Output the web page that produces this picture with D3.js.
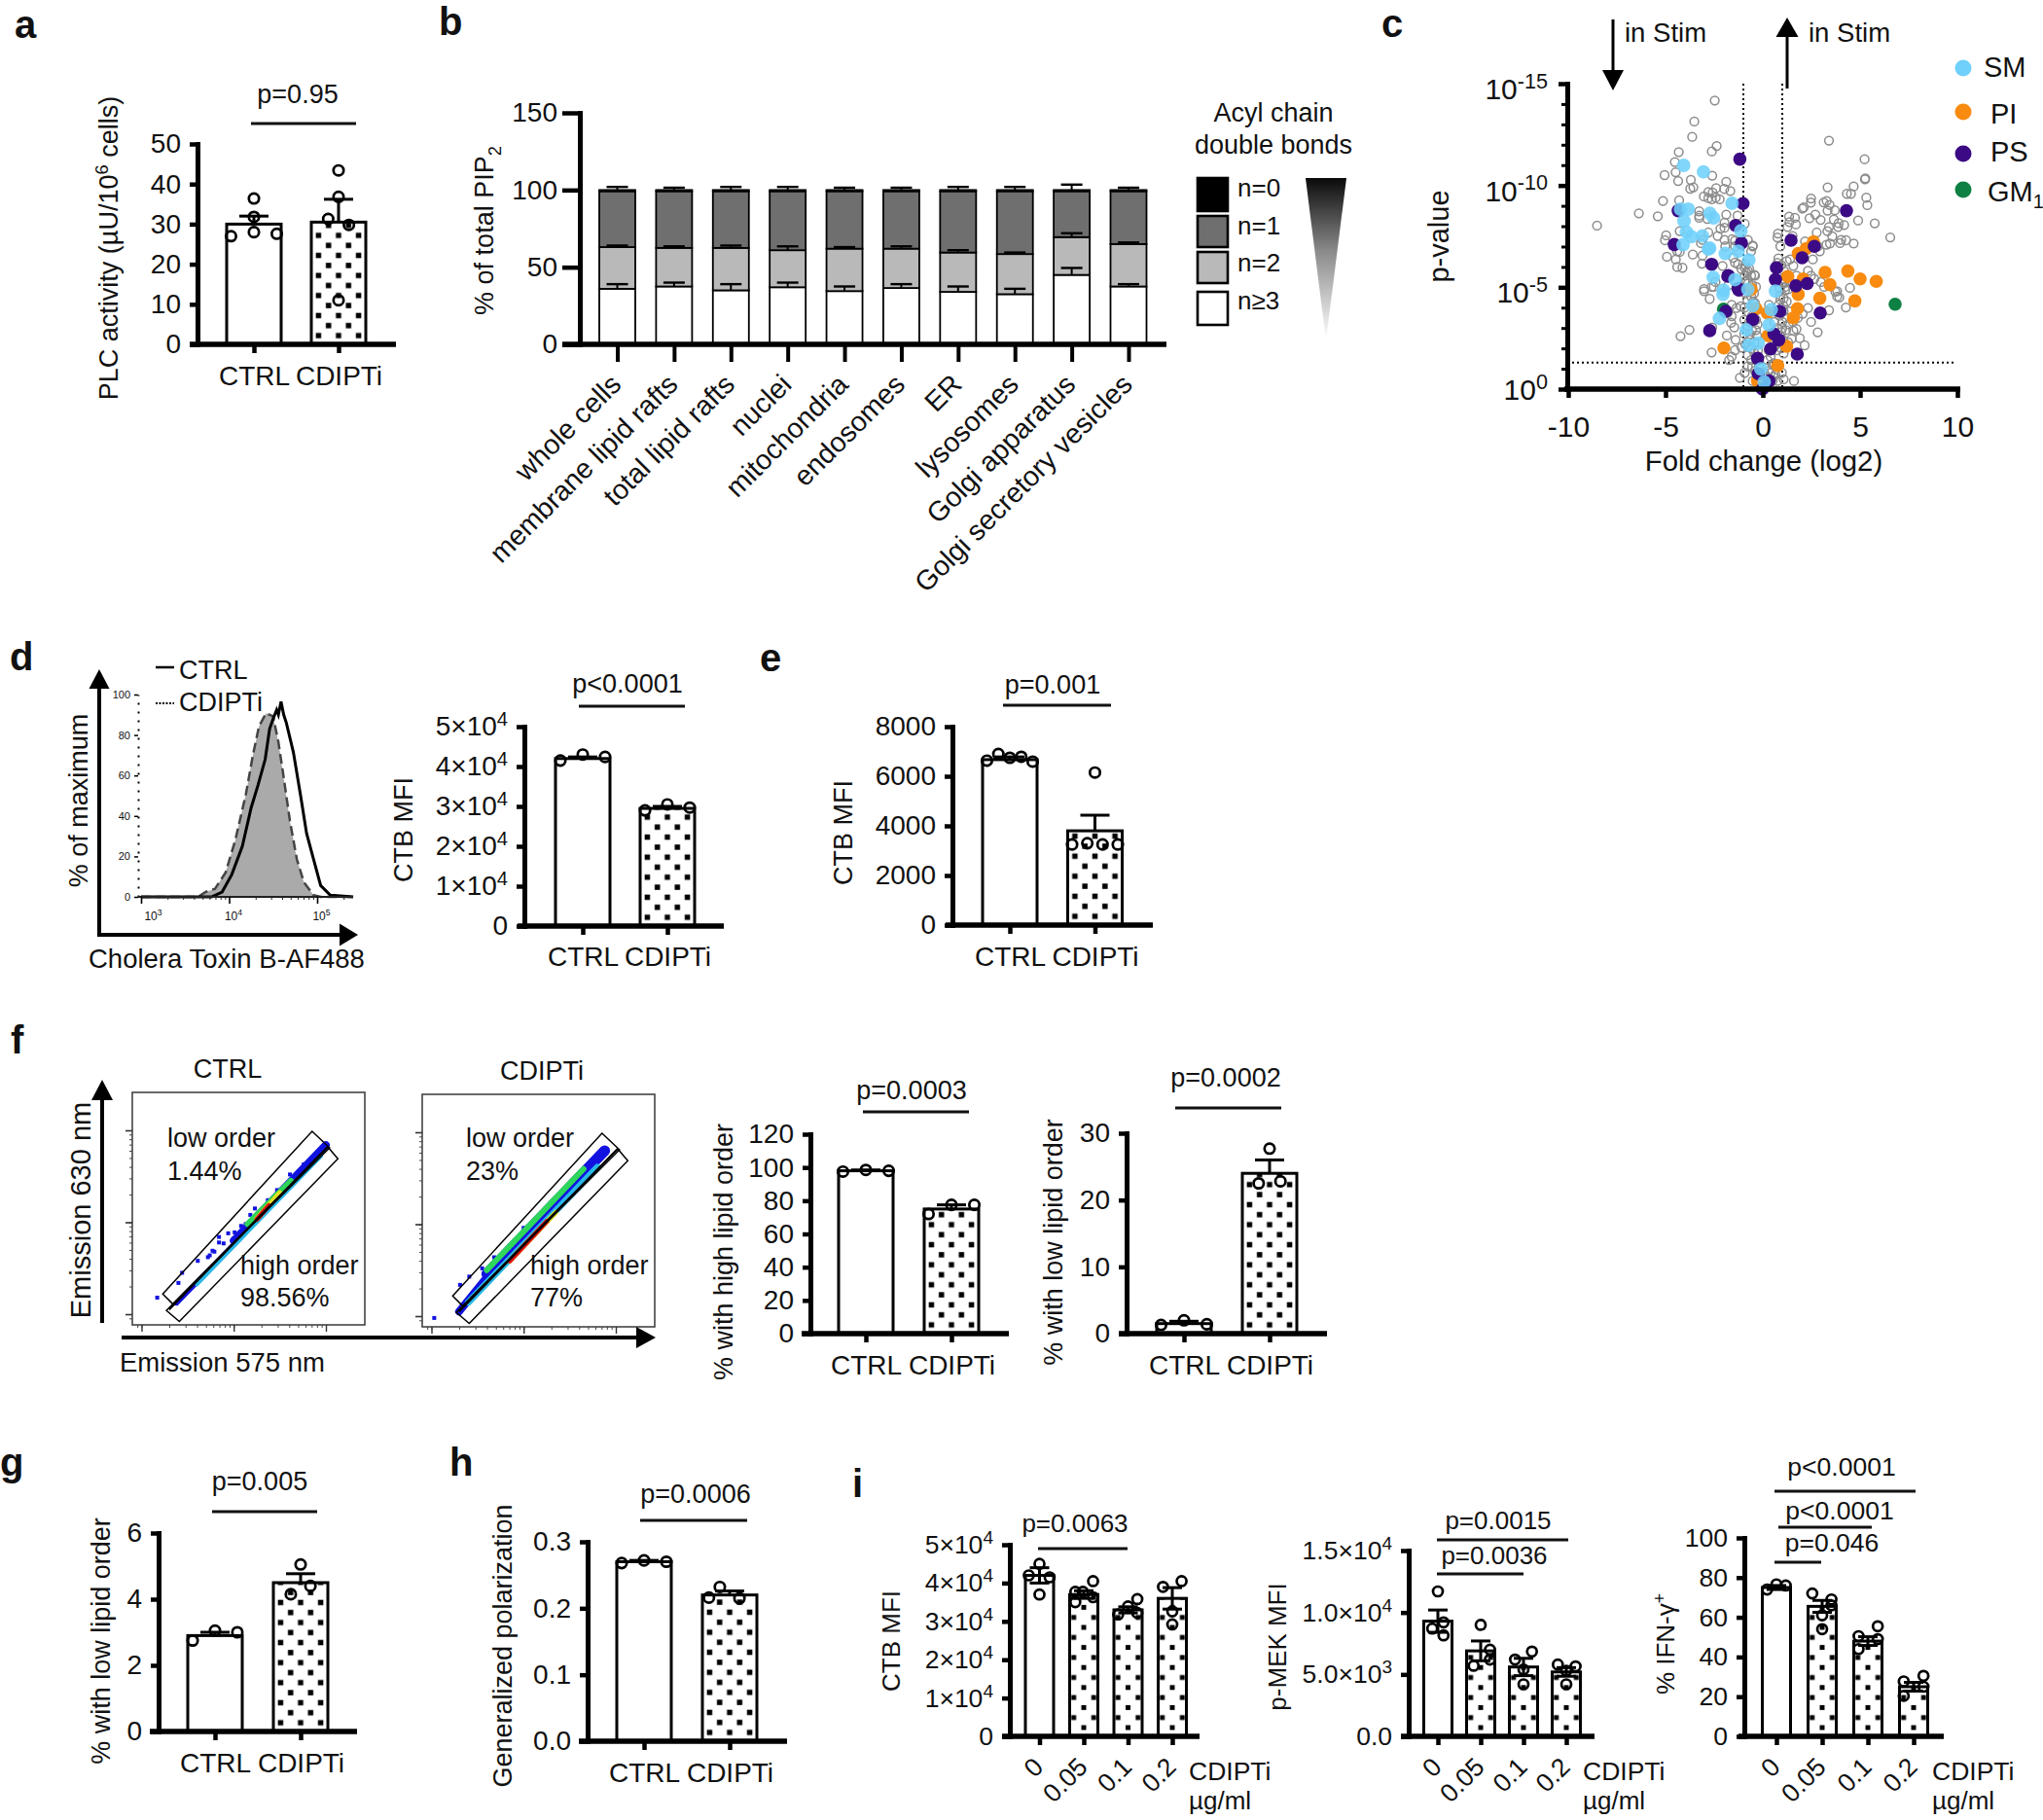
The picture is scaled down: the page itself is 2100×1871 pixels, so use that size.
<!DOCTYPE html>
<html><head><meta charset="utf-8">
<style>html,body{margin:0;padding:0;background:#fff}svg{display:block}text{font-family:"Liberation Sans",Arial,sans-serif;fill:#111}</style>
<script src="https://cdnjs.cloudflare.com/ajax/libs/d3/7.8.5/d3.min.js"></script>
</head><body><script>
// ---------- DATA ----------
const ctrlCats=["CTRL","CDIPTi"];
const doseCats=["0","0.05","0.1","0.2"];
const aValues=[30,30.5], aErr=[2,5.7];
const aPoints=[[36.4,31.8,28,27,27.6],[43.4,36.8,31.3,29.8,11]];
const aJitter=[[0,0,0,-.42,.42],[0,0,-.19,.19,0]];
const dValues=[42000,29500], dErr=[400,500];
const dPoints=[[41500,43000,42400],[29000,30500,29700]];
const dJitter=[[-.41,0,.41],[-.41,0,.41]];
const eValues=[6670,3800], eErr=[110,630];
const ePoints=[[6630,6900,6745,6785,6590],[6150,3250,3300,3250,3250]];
const eJitter=[[-.42,-.21,0,.21,.42],[0,-.42,-.14,.14,.42]];
const f1Values=[98,75], f1Err=[.5,2.5];
const f1Points=[[97.5,98.5,98],[72,77.5,77.5]];
const f1Jitter=[[-.42,0,.42],[-.42,0,.42]];
const f2Values=[1.5,24], f2Err=[.35,2];
const f2Points=[[1.3,2,1.4],[27.7,22.5,22.8]];
const f2Jitter=[[-.42,0,.42],[0,-.2,.2]];
const gValues=[2.9,4.5], gErr=[.1,.27];
const gPoints=[[2.75,3.05,3.0],[5.05,4.4,4.15]];
const gJitter=[[-.41,0,.41],[0,.18,-.18]];
const hValues=[.27,.22], hErr=[.002,.006];
const hPoints=[[.268,.272,.27],[.232,.216,.215]];
const hJitter=[[-.41,0,.41],[-.18,-.38,.18]];
const i1Values=[42000,37000,33000,36000], i1Err=[2000,1000,800,2800];
const i1Points=[[45000,42000,41500,37000],[40500,37700,37700,36300,35000],[35800,33900,31800,32200],[40500,39000,32600,29200]];
const i1Jitter=[[0,-.38,.36,0],[.33,-.3,-.03,.33,-.3],[.33,0,-.35,.33],[.33,-.33,0,0]];
const i2Values=[9300,6900,5600,5200], i2Err=[900,800,700,350];
const i2Points=[[11700,9200,8700,8150],[9000,7000,6200,5700],[6850,6200,5400,4200],[5650,5800,5300,4200]];
const i2Jitter=[[0,.2,-.2,.2],[0,.33,.33,-.25],[.3,-.3,0,0],[.33,-.3,0,0]];
const i3Values=[75,65.5,48,25], i3Err=[1,3,2.2,2.2];
const i3Points=[[76,76.6,74],[72,69,66,61,54],[55.5,50.5,49,44],[30.5,27.7,25,20.4]];
const i3Jitter=[[.33,0,-.33],[-.35,.33,.33,0,0],[.35,-.33,.35,-.33],[.35,-.35,.35,-.35]];

const bCats=["whole cells","membrane lipid rafts","total lipid rafts","nuclei","mitochondria","endosomes","ER","lysosomes","Golgi apparatus","Golgi secretory vesicles"];
const bN3=[36,37.5,35,37,34.5,36.5,34,32.5,45,37.5];
const bN2=[27,25,27.5,24,27.5,25.5,25.5,26,24.5,27.5];
const bN1=[36.2,36.7,36.7,38.2,37.2,37.2,39.7,40.7,29.7,34.2];
const bN0=[.8,.8,.8,.8,.8,.8,.8,.8,.8,.8];
const bErrN3=[3,2.5,4,3,3,2.5,3.5,3.5,4.5,1.5];
const bErrN2=[1,1,1.5,2.5,1,1.5,1.5,1,2.5,1];
const bErrTop=[2,1.5,2,2,1.5,1.5,2,2,3.5,1.5];
const bLegend=["n=0","n=1","n=2","n≥3"];

// [log2 fold change, -log10 p]
const volcanoGray=[[-2.47,14.17],[-3.52,13.14],[-3.63,12.39],[-2.37,11.94],[-2.62,11.67],[-4.32,11.64],[-4.52,11.15],[-4.48,10.65],[-5.05,10.51],[-4.35,10.22],[-2.6,10.48],[-3.7,10.27],[-3.73,9.84],[-3.57,9.91],[-1.88,10.18],[-1.98,9.83],[-2.4,9.87],[-1.67,9.73],[-2.8,9.68],[-2.58,9.65],[-3.03,9.46],[-2.8,9.38],[-2.62,9.32],[-2.22,9.32],[-2.42,9.4],[-5.13,9.24],[-4.3,9.27],[-6.37,8.63],[-5.4,8.49],[-8.52,8.03],[-3.27,8.73],[-3.27,8.52],[-3.27,8.41],[-2.85,8.36],[-1.88,8.57],[-1.3,8.52],[-1.97,8.17],[-2.18,7.88],[-1.97,7.92],[-2.32,7.52],[-.93,8.12],[-4.27,7.76],[-4.97,7.55],[-5.03,7.31],[-2.8,7.69],[-3.1,7.33],[-3.18,7.17],[-1.97,7.33],[-1.57,7.36],[-1.43,7.29],[-.77,7.33],[-.52,7.05],[-.6,6.77],[-4.93,6.5],[-4.4,6.77],[-4.27,6.74],[-3.6,6.61],[-3.1,6.56],[-4.47,6.37],[-4.4,6],[-4.13,5.96],[-3.13,6.16],[-2.07,6.05],[-1.52,6.45],[-1.43,6.21],[-1.27,6.13],[-.93,5.97],[-.77,5.81],[-.43,5.61],[-.93,5.57],[-1.43,7.01],[-1.93,7.01],[-2.43,5.26],[-2.63,5.02],[-3.02,4.91],[-1.77,5.1],[-.93,5.26],
[3.4,12.2],[5.23,11.29],[5.27,10.35],[5.25,10.3],[3.33,9.91],[4.67,9.95],[4.32,9.59],[4.53,9.59],[5.32,9.4],[5.37,9.03],[2.48,9.36],[2.47,9.16],[3.13,9.17],[3.28,9.24],[3.43,9.05],[2.03,8.87],[2.1,8.92],[3.33,8.76],[3.7,8.78],[2.7,8.57],[2.4,8.39],[2.97,8.31],[3.65,8.33],[4.9,8.28],[5.75,8.14],[1.35,8.47],[1.65,8.41],[1.37,8.2],[1.27,7.96],[1.7,8.09],[4.18,8.06],[3.9,8.15],[3.87,7.96],[3.4,7.96],[3.32,7.76],[2.77,7.69],[.78,7.64],[.75,7.45],[1.53,7.52],[3.57,7.5],[6.55,7.45],[4.28,7.31],[4.03,7.33],[3.97,7.17],[4.67,7.15],[3.45,7.15],[3.27,7.09],[2.17,7.25],[.9,7.01],[2.82,7.01],[2.93,6.77],[.8,6.42],[1.23,6.29],[1.4,6.37],[2.57,6.37],[1.57,6.05],[2.32,5.81],[2.48,5.57],[1.73,5.57],[1.07,5.41],[2.65,5.41],[2.98,5.26],[4.48,4.97],[3.82,4.81],[3.15,5.02],[1.4,5.26],[1.15,5.02],[.87,4.94],[-.52,7.01],[-.4,5.57],
[-3.02,4.81],[-2.73,4.43],[-2.52,5.02],[-3.77,2.91],[-4.23,2.6],[-2.63,1.8],[-2.6,3.03],[-1.8,3.74],[-1.6,4.14],[-1.35,3.98],[-1.13,4.06],[-1.63,3.26],[-1.6,3.58],[-1.47,3.03],[-1.85,2.63],[-1.4,2.42],[-.68,2.42],[-.3,2.63],[-1.1,2.04],[-1.43,1.91],[-1.6,1.59],[-1.73,1.43],[-.77,1.67],[-1.18,.56],[-.52,.4],[-.02,.16],[.15,.08],[1.6,.4],[1.07,.48],[-.85,5.73],[-.6,5.57],[-.85,5.33],[-.35,5.02],[-.6,4.54],[-.4,4.22],[-.27,3.9],[-.77,3.1],[-.27,3.18],[-.43,2.31],[.32,4.14],[.57,3.82],[.98,5.25],[1.15,4.86],[1.23,4.3],[1.07,3.82],[1.07,4.46],[.82,4.14],[1.4,3.82],[1.32,3.18],[1.57,2.87],[1.73,2.95],[1.48,2.47],[2.15,2.15],[2.48,3.3],[2.82,2.79],[2.32,3.98],[3.4,3.87],[4.27,4.01],[3.82,4.54],[3.93,4.5],[3.73,4.78],[1.07,1.75],[.23,1.43],[.57,1.27],[.73,1.91],[.98,.8],[.65,.72],[.07,.8],[-.77,1.11],[-.93,.8],[-.6,1.43],[.15,.4],[-.1,.32],[.4,1.59],[.7,2.2],[.9,2.6],[1,3],[.6,3.3],[.4,2.5],[.3,1.9],[-.2,1.2],[.3,.9],[-.4,.9],[.5,.4],[.9,4.6],[.7,5.4],
[-1.1,5.9],[-.9,6.1],[-.7,5.9],[-.75,5.2],[-.55,5.1],[-.9,4.7],[-.45,4.7],[-.8,4.4],[-.5,4.3],[-.95,4],[-.75,3.8],[-.55,3.6],[-.35,3.4],[-.95,3.4],[-.7,3.3],[-.55,2.9],[-.95,2.7],[-.65,2.7],[-.35,2.9],[-.9,2.2],[-.6,2],[-.45,1.8],[-.25,1.9],[-.55,1.1],[-.35,.8],[-.2,.6],
[.75,6.2],[.95,6.1],[1.1,5.8],[.85,5.6],[1.3,5.6],[1.1,5.2],[1.3,4.9],[.9,4.4],[1.05,4.1],[.85,3.6],[1.2,3.5],[1,3.3],[.75,3],[.95,2.8],[1.2,2.9],[.8,2.4],[1.05,2.4],[1.3,2.3],[.6,2.1],[.95,2],[.5,1.2],[.7,1.1],[.4,.8],[.55,.6],[.75,.4],[.2,.6],[1.55,3.3],[1.8,3.5],[2.05,3.7],[1.9,2.5]];
const volcanoSM=[[-4.07,10.99],[-3.05,10.67],[-1.58,9.13],[-4.23,8.84],[-3.83,8.84],[-4.05,8.25],[-2.72,8.63],[-2.53,8.41],[-1.13,7.77],[-3.93,7.72],[-3.68,7.49],[-4.1,7.09],[-3.1,7.52],[-2.73,6.93],[-2.8,6.88],[-1.93,6.66],[-1.27,6.77],[-.72,6.34],[-2.55,5.49],[-1.43,5.38],[-2.02,4.86],[-.77,4.9],[-2.05,4.65],[-.52,4.09],[-2.23,3.47],[-.85,2.91],[.32,3.15],[.43,3.9],[.65,4.81],[-.23,2.26],[-.73,2.15],[-.1,.99],[.07,.35]];
const volcanoPS=[[-1.18,11.29],[-1.02,9.11],[-4.35,8.76],[-1.4,8.04],[-1.1,7.17],[-4.55,7.1],[-2.63,6.13],[-1.77,5.57],[-1.27,4.94],[4.3,8.76],[1.45,7.31],[2.65,7.01],[2.02,6.45],[.7,5.96],[.65,5.38],[1.7,5.07],[2.28,5.18],[-1.8,5.54],[-1.23,4.86],[-1.9,3.82],[-.52,3.42],[-2.73,2.87],[.87,3.82],[2.95,3.74],[.57,2.71],[.82,2.42],[.4,1.97],[1.77,1.72],[-.27,1.51],[-.23,.75],[.32,.4],[-.02,0]];
const volcanoPI=[[2.6,7.23],[2.23,6.9],[1.82,6.66],[3.2,5.73],[4.37,5.8],[5,5.41],[5.83,5.29],[3.45,5.13],[1.28,5.53],[2.07,5.41],[2.93,4.46],[4.73,4.33],[1.82,4.65],[1.78,3.95],[1.57,3.5],[.23,3.74],[-.6,4.9],[-.35,3.95],[-2,2.02],[1.23,2.1],[.77,1.16],[.27,2.63],[-.27,.4]];
const volcanoGM=[[6.8,4.17],[-2.02,3.93]];
const volcanoLegend=["SM","PI","PS","GM"];

// histogram: [log10 intensity, % of max]
const histCtrl=[[3,0],[3.8,0],[3.92,2.4],[4.03,11],[4.15,25],[4.25,44],[4.33,55.5],[4.41,68],[4.46,83],[4.5,88],[4.54,92.4],[4.56,90],[4.59,96.5],[4.62,90],[4.65,86],[4.73,71.5],[4.81,50.6],[4.88,31.4],[4.96,18.5],[5.04,5.6],[5.15,.8],[5.41,0]];
const histCdipti=[[3,0],[3.65,0],[3.73,2.4],[3.84,4],[3.96,12],[4.07,28],[4.19,50.6],[4.27,70],[4.34,84.4],[4.42,90.8],[4.5,89.2],[4.56,76.4],[4.61,62],[4.69,37.8],[4.77,18.5],[4.85,7.2],[4.96,.8],[5.04,0],[5.41,0]];

// flow: gates and density bands in log10 units [x1,y1,x2,y2,level,thickness]
const gateLow=[[4.85,4.99],[5.04,4.81],[3.34,3.11],[3.23,3.22]];
const gateHigh=[[5.02,4.82],[5.13,4.69],[3.41,2.92],[3.27,3.04]];
const gateDivider=[[5.02,4.82],[3.3,3.05]];
const flowBandsCtrl=[[3.38,3.12,4.0,3.76,0,5],[4.0,3.8,5.0,4.84,0,8],[3.6,3.32,4.95,4.72,2,3.5],[4.15,3.98,4.62,4.45,3,6],[4.25,4.04,4.5,4.32,4,5],[4.25,4.03,4.38,4.18,6,5]];
const flowBandsCdipti=[[3.3,3.05,3.6,3.42,0,8],[3.6,3.46,4.88,4.8,0,11],[3.4,3.15,4.8,4.62,2,7],[3.6,3.5,4.65,4.6,3,6],[3.85,3.6,4.35,4.13,4,5],[3.85,3.6,4.25,4.03,6,5]];
const flowScatterCtrl=[[3.17,3.18],[3.4,3.34],[3.44,3.45],[3.61,3.58],[3.72,3.62],[3.84,3.84],[3.94,3.88],[3.79,3.68],[3.89,3.77],[4.08,3.96],[4.23,4.15],[3.84,3.78],[3.77,3.69],[3.74,3.64],[4.01,3.89],[4.13,3.98],[4.18,4.08],[4.37,4.24],[4.47,4.35],[4.61,4.52],[4.76,4.63]];
const flowScatterCdipti=[[3.03,2.98],[3.31,3.34],[3.41,3.43],[3.55,3.52],[3.68,3.64],[3.85,3.77],[4.0,3.96]];
const flowLevels=["#1212e0","#1a6fe8","#28b8e8","#2ed65a","#e4e020","#f09010","#e01410"];

// ---------- DRAWING ----------
const svg=d3.select("body").append("svg").attr("width",2100).attr("height",1871);
const defs=svg.append("defs");
let uid=0;
function txt(par,x,y,s,fs,opt={}){
  const t=par.append("text").attr("x",x).attr("y",y).attr("font-size",fs).attr("text-anchor",opt.anchor||"start");
  if(opt.weight)t.attr("font-weight",opt.weight);
  t.text(s);return t;
}
function rotLabel(par,x,cy,parts,fs){
  const t=par.append("text").attr("transform",`translate(${x},${cy}) rotate(-90)`).attr("text-anchor","middle").attr("font-size",fs);
  richText(t,parts,fs);return t;
}
function richText(t,parts,fs){
  let shift=0;
  parts.forEach(p=>{
    const s=typeof p==="string"?{t:p,d:0}:p;
    const sp=t.append("tspan").text(s.t);
    const dy=s.d-shift; if(dy)sp.attr("dy",dy);
    shift=s.d;
    if(s.d)sp.attr("font-size",fs*.68);
  });
}
function supTicks(sel,fs){
  sel.selectAll(".tick text").each(function(){
    const el=d3.select(this),parts=el.text().split("^");
    el.attr("font-size",fs).attr("fill","#111");
    if(parts.length>1){el.text(parts[0]);el.append("tspan").attr("dy",-fs*.38).attr("font-size",fs*.72).text(parts[1]);}
  });
}
function arrow(par,x1,y1,x2,y2,hl,hw,sw=4){
  const a=Math.atan2(y2-y1,x2-x1),bx=x2-hl*Math.cos(a),by=y2-hl*Math.sin(a),nx=-Math.sin(a)*hw,ny=Math.cos(a)*hw;
  par.append("line").attr("x1",x1).attr("y1",y1).attr("x2",bx).attr("y2",by).attr("stroke","#000").attr("stroke-width",sw);
  par.append("polygon").attr("points",`${x2},${y2} ${bx+nx},${by+ny} ${bx-nx},${by-ny}`).attr("fill","#000");
}
function pBar(par,p){
  txt(par,p.cx,p.base,p.text,p.fs||27,{anchor:"middle"});
  par.append("line").attr("x1",p.x1).attr("x2",p.x2).attr("y1",p.y).attr("y2",p.y).attr("stroke","#111").attr("stroke-width",3);
}
function styleAxis(ax,sw,tw){
  ax.select(".domain").attr("stroke","#000").attr("stroke-width",sw).attr("stroke-linecap","square");
  ax.selectAll(".tick line").attr("stroke","#000").attr("stroke-width",tw);
}
function barChart(s){
  const g=svg.append("g"), fs=s.fs||28;
  const y=d3.scaleLinear().domain([0,s.max]).range([s.y0,s.yTop]);
  const x=d3.scalePoint().domain(s.cats).range([s.c1,s.c2]);
  const fills=s.cats.map((c,i)=>{
    if(i===s.plain)return "#fff";
    const id="dots"+(uid++),T=20.6,q=s.sq||5.5;
    const pat=defs.append("pattern").attr("id",id).attr("patternUnits","userSpaceOnUse").attr("width",T).attr("height",T)
      .attr("patternTransform",`translate(${x(c)-T/2},${s.y0-9-T/2})`);
    pat.append("rect").attr("width",T).attr("height",T).attr("fill","#fff");
    [[T/2,T/2],[0,0],[T,0],[0,T],[T,T]].forEach(p=>pat.append("rect").attr("x",p[0]-q/2).attr("y",p[1]-q/2).attr("width",q).attr("height",q).attr("fill","#000"));
    return `url(#${id})`;
  });
  s.cats.forEach((c,i)=>{
    const cx=x(c),v=s.values[i],e=s.err[i],top=y(v+e),bot=s.both?y(v-e):y(v);
    g.append("rect").attr("x",cx-s.bw/2).attr("width",s.bw).attr("y",y(v)).attr("height",s.y0-y(v)).attr("fill",fills[i]).attr("stroke","#000").attr("stroke-width",3);
    g.append("line").attr("x1",cx).attr("x2",cx).attr("y1",top).attr("y2",bot).attr("stroke","#000").attr("stroke-width",3);
    [v+e].concat(s.both?[v-e]:[]).forEach(val=>g.append("line").attr("x1",cx-s.cap/2).attr("x2",cx+s.cap/2).attr("y1",y(val)).attr("y2",y(val)).attr("stroke","#000").attr("stroke-width",3));
    g.selectAll(null).data(s.points[i]).enter().append("circle")
      .attr("cx",(d,j)=>cx+s.jitter[i][j]*s.bw).attr("cy",d=>y(d)).attr("r",s.r||5.2).attr("fill","none").attr("stroke","#000").attr("stroke-width",2.7);
  });
  const ya=g.append("g").attr("transform",`translate(${s.axX},0)`)
    .call(d3.axisLeft(y).tickValues(s.ticks).tickFormat((d,i)=>s.tickLabels?s.tickLabels[i]:d).tickSize(8).tickPadding(s.pad||9).tickSizeOuter(0));
  styleAxis(ya,5,4.5); supTicks(ya,fs);
  const xa=g.append("g").attr("transform",`translate(0,${s.y0})`)
    .call(d3.axisBottom(x).tickSize(9).tickSizeOuter(0));
  styleAxis(xa,5.5,4.5);
  xa.select(".domain").attr("d",`M${s.xStart},0H${s.xEnd}`).attr("stroke-linecap","butt");
  xa.selectAll(".tick text").attr("font-size",fs).attr("fill","#111");
  if(s.xLabY)xa.selectAll(".tick text").attr("y",s.xLabY-s.y0).attr("dy",0);
  if(s.rotate){
    xa.selectAll(".tick text").attr("text-anchor","end").attr("dy",0).attr("y",0)
      .attr("transform",`translate(${s.rotate[0]},${s.rotate[1]-s.y0}) rotate(-45)`);
  }
  rotLabel(g,s.labX,s.labY,s.label,s.labFs||27);
  (s.p||[]).forEach(p=>pBar(g,p));
  return g;
}
// panel letters
[["a",15,39],["b",451,36],["c",1420,38],["d",10,689],["e",781,690],["f",11,1083],["g",0,1517],["h",462,1517],["i",876,1539]]
 .forEach(d=>txt(svg,d[1],d[2],d[0],40,{weight:"bold"}));

// a
barChart({cats:ctrlCats,values:aValues,err:aErr,points:aPoints,jitter:aJitter,plain:0,max:50,ticks:[0,10,20,30,40,50],
  y0:354,yTop:148,axX:203,c1:261,c2:348,bw:56,cap:30,xStart:195,xEnd:407,xLabY:396,labX:121,labY:255,labFs:27,
  label:["PLC activity (µU/10",{t:"6",d:-10}," cells)"],p:[{text:"p=0.95",cx:306,base:106,x1:258,x2:366,y:127}]});

// b
(function(){
  const g=svg.append("g"),y=d3.scaleLinear().domain([0,150]).range([354,116]);
  const x=d3.scalePoint().domain(bCats).range([634.5,1160]);
  const seg=[[bN3,"#fff"],[bN2,"#b9b9b9"],[bN1,"#6f6f6f"],[bN0,"#000"]];
  bCats.forEach((c,i)=>{
    let base=0;const tops=[];
    seg.forEach(([arr,col])=>{
      const v=arr[i];
      g.append("rect").attr("x",x(c)-18.5).attr("width",37).attr("y",y(base+v)).attr("height",y(base)-y(base+v)).attr("fill",col).attr("stroke","#000").attr("stroke-width",1.8);
      base+=v;tops.push(base);
    });
    [[tops[0],bErrN3[i]],[tops[1],bErrN2[i]],[tops[3],bErrTop[i]]].forEach(([t,e])=>{
      g.append("line").attr("x1",x(c)).attr("x2",x(c)).attr("y1",y(t)).attr("y2",y(t+e)).attr("stroke","#000").attr("stroke-width",2);
      g.append("line").attr("x1",x(c)-11).attr("x2",x(c)+11).attr("y1",y(t+e)).attr("y2",y(t+e)).attr("stroke","#000").attr("stroke-width",2.4);
    });
  });
  const ya=g.append("g").attr("transform","translate(596,0)").call(d3.axisLeft(y).tickValues([0,50,100,150]).tickSize(18).tickPadding(5).tickSizeOuter(0));
  styleAxis(ya,5,4.5);supTicks(ya,28);
  const xa=g.append("g").attr("transform","translate(0,354)").call(d3.axisBottom(x).tickSize(18).tickSizeOuter(0));
  styleAxis(xa,5.5,4);
  xa.select(".domain").attr("d","M578,0H1199").attr("stroke-linecap","butt");
  xa.selectAll(".tick text").attr("font-size",28.6).attr("fill","#111").attr("text-anchor","end").attr("y",0).attr("dy",0)
    .attr("transform","translate(5,43) rotate(-45)");
  rotLabel(g,507,237,["% of total PIP",{t:"2",d:8}],27);
  // legend
  const L=svg.append("g");
  txt(L,1309,125,"Acyl chain",27,{anchor:"middle"});txt(L,1309,158,"double bonds",27,{anchor:"middle"});
  const cols=["#000","#6f6f6f","#b9b9b9","#fff"],ys=[183,222,259,300],hs=[34,32,32,34],bs=[202,241,279,318];
  bLegend.forEach((t,i)=>{
    L.append("rect").attr("x",1231).attr("y",ys[i]).attr("width",31).attr("height",hs[i]).attr("fill",cols[i]).attr("stroke","#000").attr("stroke-width",2.6);
    txt(L,1272,bs[i],t,26);
  });
  const gr=defs.append("linearGradient").attr("id","tri").attr("x1",0).attr("x2",0).attr("y1",0).attr("y2",1);
  gr.append("stop").attr("offset",0).attr("stop-color","#0a0a0a");
  gr.append("stop").attr("offset",.45).attr("stop-color","#8a8a8a");
  gr.append("stop").attr("offset",1).attr("stop-color","#fff");
  L.append("polygon").attr("points","1342,183 1384,183 1363,350").attr("fill","url(#tri)");
})();

// c
(function(){
  const g=svg.append("g");
  const x=d3.scaleLinear().domain([-10,10]).range([1612,2012]);
  const y=d3.scaleLinear().domain([0,15]).range([400,86]);
  const dot=(a,b,c,d)=>g.append("line").attr("x1",a).attr("x2",b).attr("y1",c).attr("y2",d).attr("stroke","#000").attr("stroke-width",2).attr("stroke-dasharray","2,3");
  dot(x(-1),x(-1),y(15),y(0));dot(x(1),x(1),y(15),y(0));dot(1616,2011,y(1.3),y(1.3));
  g.selectAll(null).data(volcanoGray).enter().append("circle").attr("cx",d=>x(d[0])).attr("cy",d=>y(d[1])).attr("r",4.4).attr("fill","none").attr("stroke","#8c8c8c").attr("stroke-width",1.5);
  const pts=(arr,col,op,r)=>g.selectAll(null).data(arr).enter().append("circle").attr("cx",d=>x(d[0])).attr("cy",d=>y(d[1])).attr("r",r).attr("fill",col).attr("opacity",op);
  pts(volcanoGM,"#0e8043",1,6.8);pts(volcanoPI,"#f88b10",1,6.8);pts(volcanoPS,"#3c0a84",1,6.8);pts(volcanoSM,"#6fd0fb",.88,7);
  const minor=g.append("g").attr("transform","translate(1611,0)").call(d3.axisLeft(y).tickValues(d3.range(0,16)).tickFormat("").tickSize(6).tickSizeOuter(0));
  styleAxis(minor,5,3);
  const ya=g.append("g").attr("transform","translate(1611,0)").call(d3.axisLeft(y).tickValues([0,5,10,15]).tickFormat(d=>d===0?"10^0":"10^-"+d).tickSize(9).tickPadding(11).tickSizeOuter(0));
  styleAxis(ya,5,4.5);supTicks(ya,30);
  ya.selectAll(".tick text").attr("transform",d=>`translate(0,${d===0?1:6})`);
  const xa=g.append("g").attr("transform","translate(0,400)").call(d3.axisBottom(x).tickValues([-10,-5,0,5,10]).tickFormat(d=>String(d)).tickSize(9).tickSizeOuter(0));
  styleAxis(xa,5.5,4.5);
  xa.select(".domain").attr("d","M1608,0H2015").attr("stroke-linecap","butt");
  xa.selectAll(".tick text").attr("font-size",30).attr("fill","#111").attr("y",49).attr("dy",0);
  txt(g,1813,484,"Fold change (log2)",29.3,{anchor:"middle"});
  rotLabel(g,1489,243,["p-value"],29);
  arrow(g,1658,20,1658,93,21,11,3);arrow(g,1837,91,1837,18,20,11.5,3);
  txt(g,1670,43,"in Stim",27.5);txt(g,1859,43,"in Stim",27.5);
  const lc=["#6fd0fb","#f88b10","#3c0a84","#0e8043"],ly=[70,115,158,195],lx=[2039,2046,2046,2043],lb=[79,127,166,207];
  volcanoLegend.forEach((t,i)=>{
    g.append("circle").attr("cx",2018).attr("cy",ly[i]).attr("r",8.5).attr("fill",lc[i]);
    const tt=txt(g,lx[i],lb[i],"",29);
    tt.append("tspan").text(t);
    if(t==="GM")tt.append("tspan").attr("dy",7).attr("font-size",20).text("1");
  });
})();

// d histogram
(function(){
  const g=svg.append("g");
  const x=d3.scaleLinear().domain([3,5]).range([145,326]);
  const y=d3.scaleLinear().domain([0,100]).range([922,714]);
  g.append("path").datum(histCdipti).attr("d",d3.area().x(d=>x(d[0])).y0(y(0)).y1(d=>y(d[1]))).attr("fill","#aaa");
  g.append("path").datum(histCdipti).attr("d",d3.line().x(d=>x(d[0])).y(d=>y(d[1]))).attr("fill","none").attr("stroke","#444").attr("stroke-width",2.5).attr("stroke-dasharray","10,5");
  g.append("path").datum(histCtrl).attr("d",d3.line().x(d=>x(d[0])).y(d=>y(d[1]))).attr("fill","none").attr("stroke","#000").attr("stroke-width",3);
  const ya=g.append("g").attr("transform","translate(142,0)").call(d3.axisLeft(y).tickValues([0,20,40,60,80,100]).tickSize(4).tickPadding(4).tickSizeOuter(0));
  ya.select(".domain").attr("stroke","#000").attr("stroke-width",2).attr("stroke-dasharray","2,7");
  ya.selectAll(".tick line").attr("stroke","#000").attr("stroke-width",1.5);
  ya.selectAll(".tick text").attr("font-size",11).attr("fill","#333");
  const minors=[];[3,4,5].forEach(dc=>[2,3,4,5,6,7,8,9].forEach(m=>{const v=dc+Math.log10(m);if(v<=5.41)minors.push(v);}));
  const xm=g.append("g").attr("transform","translate(0,922)").call(d3.axisBottom(x).tickValues(minors).tickFormat("").tickSize(3).tickSizeOuter(0));
  xm.select(".domain").attr("d","M142,0H363").attr("stroke","#222").attr("stroke-width",2);
  xm.selectAll(".tick line").attr("stroke","#222").attr("stroke-width",1);
  const xa=g.append("g").attr("transform","translate(0,922)").call(d3.axisBottom(x).tickValues([3,4,5]).tickFormat(d=>"10^"+d).tickSize(7).tickPadding(8).tickSizeOuter(0));
  xa.select(".domain").remove();xa.selectAll(".tick line").attr("stroke","#000").attr("stroke-width",1.6);
  supTicks(xa,12);
  xa.selectAll(".tick text").attr("transform",d=>`translate(${d===3?12:4},0)`);
  arrow(g,102,962,102,688,20,10.5);arrow(g,100,961,368,961,19,11.5);
  rotLabel(g,90,823,["% of maximum"],27);
  txt(g,91,995,"Cholera Toxin B-AF488",27.5);
  g.append("line").attr("x1",160).attr("x2",179).attr("y1",686).attr("y2",686).attr("stroke","#000").attr("stroke-width",2.5);
  g.append("line").attr("x1",160).attr("x2",179).attr("y1",723).attr("y2",723).attr("stroke","#000").attr("stroke-width",2).attr("stroke-dasharray","2,1.5");
  txt(g,184,698,"CTRL",27);txt(g,184,731,"CDIPTi",27);
})();
const sci4=["0","1×10^4","2×10^4","3×10^4","4×10^4","5×10^4"];
barChart({cats:ctrlCats,values:dValues,err:dErr,points:dPoints,jitter:dJitter,plain:0,max:50000,ticks:[0,1e4,2e4,3e4,4e4,5e4],tickLabels:sci4,
  y0:952,yTop:747,axX:539,c1:599,c2:686,bw:56,cap:30,xStart:532,xEnd:744,xLabY:993,labX:424,labY:853,
  label:["CTB MFI"],p:[{text:"p<0.0001",cx:645,base:712,x1:595,x2:704,y:726}]});
barChart({cats:ctrlCats,values:eValues,err:eErr,points:ePoints,jitter:eJitter,plain:0,max:8000,ticks:[0,2000,4000,6000,8000],
  y0:951,yTop:747,axX:979,c1:1038,c2:1125.5,bw:56,cap:30,xStart:972,xEnd:1185,xLabY:993,labX:876,labY:856,
  label:["CTB MFI"],p:[{text:"p=0.001",cx:1082,base:713,x1:1031,x2:1142,y:725}]});

// f flow
function flowPanel(dx,dy,bands,scatter,title,tx,ty,lines){
  const g=svg.append("g");
  const x=d3.scaleLinear().domain([3,5]).range([145.5+dx,335+dx]);
  const y=d3.scaleLinear().domain([3,5]).range([1351+dy,1162+dy]);
  const L=136+dx,R=375+dx,T=1123+dy,B=1362+dy;
  g.append("rect").attr("x",L).attr("y",T).attr("width",R-L).attr("height",B-T).attr("fill","#fff").attr("stroke","#444").attr("stroke-width",1.6);
  const mins=[];[2,3,4].forEach(dc=>[1,2,3,4,5,6,7,8,9].forEach(m=>{const v=dc+Math.log10(m);if(v>2.95&&v<=5.5)mins.push(v);}));
  const xa=g.append("g").attr("transform",`translate(0,${B})`).call(d3.axisBottom(x).tickValues(mins).tickFormat("").tickSize(3).tickSizeOuter(0));
  xa.select(".domain").remove();xa.selectAll(".tick line").attr("stroke","#444").attr("stroke-width",1);
  const ya=g.append("g").attr("transform",`translate(${L},0)`).call(d3.axisLeft(y).tickValues(mins).tickFormat("").tickSize(3).tickSizeOuter(0));
  ya.select(".domain").remove();ya.selectAll(".tick line").attr("stroke","#444").attr("stroke-width",1);
  const xb=g.append("g").attr("transform",`translate(0,${B})`).call(d3.axisBottom(x).tickValues([3,4,5]).tickFormat("").tickSize(7).tickSizeOuter(0));
  xb.select(".domain").remove();xb.selectAll(".tick line").attr("stroke","#333").attr("stroke-width",1.4);
  const yb=g.append("g").attr("transform",`translate(${L},0)`).call(d3.axisLeft(y).tickValues([3,4,5]).tickFormat("").tickSize(7).tickSizeOuter(0));
  yb.select(".domain").remove();yb.selectAll(".tick line").attr("stroke","#333").attr("stroke-width",1.6);
  g.selectAll(null).data(scatter).enter().append("rect").attr("x",d=>x(d[0])-2).attr("y",d=>y(d[1])-2).attr("width",4).attr("height",4).attr("fill",flowLevels[0]);
  bands.forEach(b=>g.append("line").attr("x1",x(b[0])).attr("y1",y(b[1])).attr("x2",x(b[2])).attr("y2",y(b[3])).attr("stroke",flowLevels[b[4]]).attr("stroke-width",b[5]).attr("stroke-linecap","round"));
  const poly=d3.line().x(d=>x(d[0])).y(d=>y(d[1])).curve(d3.curveLinearClosed);
  [gateLow,gateHigh].forEach(a=>g.append("path").attr("d",poly(a)).attr("fill","none").attr("stroke","#000").attr("stroke-width",1.5));
  g.append("path").attr("d",d3.line().x(d=>x(d[0])).y(d=>y(d[1]))(gateDivider)).attr("fill","none").attr("stroke","#000").attr("stroke-width",2);
  txt(g,tx,ty,title,27,{anchor:"middle"});
  lines.forEach(l=>txt(g,l[0],l[1],l[2],27));
}
flowPanel(0,0,flowBandsCtrl,flowScatterCtrl,"CTRL",234,1108,[[172,1179,"low order"],[172,1213,"1.44%"],[247,1310,"high order"],[247,1343,"98.56%"]]);
flowPanel(298,2,flowBandsCdipti,flowScatterCdipti,"CDIPTi",557,1110,[[479,1179,"low order"],[479,1213,"23%"],[545,1310,"high order"],[545,1343,"77%"]]);
arrow(svg,105,1360,105,1110,21,11);arrow(svg,125,1375,674,1375,20,11);
rotLabel(svg,93,1244,["Emission 630 nm"],29);
txt(svg,123,1410,"Emission 575 nm",27.5);
barChart({cats:ctrlCats,values:f1Values,err:f1Err,points:f1Points,jitter:f1Jitter,plain:0,max:120,ticks:[0,20,40,60,80,100,120],
  y0:1371,yTop:1166,axX:833,c1:890,c2:978,bw:56,cap:30,xStart:824,xEnd:1037,xLabY:1413,labX:753,labY:1287,
  label:["% with high lipid order"],p:[{text:"p=0.0003",cx:937,base:1130,x1:887,x2:996,y:1143}]});
barChart({cats:ctrlCats,values:f2Values,err:f2Err,points:f2Points,jitter:f2Jitter,plain:0,max:30,ticks:[0,10,20,30],
  y0:1371,yTop:1165,axX:1158,c1:1217,c2:1305,bw:56,cap:30,xStart:1150,xEnd:1364,xLabY:1413,labX:1092,labY:1277,
  label:["% with low lipid order"],p:[{text:"p=0.0002",cx:1260,base:1117,x1:1208,x2:1317,y:1139}]});
// g h
barChart({cats:ctrlCats,values:gValues,err:gErr,points:gPoints,jitter:gJitter,plain:0,max:6,ticks:[0,2,4,6],
  y0:1780,yTop:1576,axX:163,c1:221,c2:309,bw:56,cap:30,xStart:154,xEnd:367,xLabY:1822,labX:113,labY:1687,
  label:["% with low lipid order"],p:[{text:"p=0.005",cx:267,base:1532,x1:218,x2:326,y:1554}]});
barChart({cats:ctrlCats,values:hValues,err:hErr,points:hPoints,jitter:hJitter,plain:0,max:.3,ticks:[0,.1,.2,.3],tickLabels:["0.0","0.1","0.2","0.3"],
  y0:1790,yTop:1585,axX:604,c1:662,c2:750,bw:56,cap:30,xStart:595,xEnd:809,xLabY:1832,labX:526,labY:1692,
  label:["Generalized polarization"],p:[{text:"p=0.0006",cx:715,base:1545,x1:658,x2:768,y:1563}]});
// i
const common={cats:doseCats,plain:0,bw:29,cap:20,both:true,fs:26.5,labFs:26,r:5,sq:5};
barChart({...common,values:i1Values,err:i1Err,points:i1Points,jitter:i1Jitter,max:50000,ticks:[0,1e4,2e4,3e4,4e4,5e4],tickLabels:sci4,
  y0:1785,yTop:1588,axX:1038,c1:1068.5,c2:1205,xStart:1030,xEnd:1233,rotate:[5,1818],labX:925,labY:1687,
  label:["CTB MFI"],p:[{text:"p=0.0063",cx:1105,base:1575,x1:1067,x2:1159,y:1592,fs:26}]});
barChart({...common,values:i2Values,err:i2Err,points:i2Points,jitter:i2Jitter,max:15000,ticks:[0,5000,10000,15000],tickLabels:["0.0","5.0×10^3","1.0×10^4","1.5×10^4"],
  y0:1785,yTop:1594,axX:1448,c1:1478,c2:1610,xStart:1440,xEnd:1639,rotate:[5,1818],labX:1322,labY:1693,
  label:["p-MEK MFI"],p:[{text:"p=0.0015",cx:1540,base:1572,x1:1477,x2:1612,y:1583,fs:26},{text:"p=0.0036",cx:1536,base:1608,x1:1477,x2:1566,y:1618,fs:26}]});
barChart({...common,values:i3Values,err:i3Err,points:i3Points,jitter:i3Jitter,max:100,ticks:[0,20,40,60,80,100],
  y0:1785,yTop:1581,axX:1793,c1:1826,c2:1967,xStart:1787,xEnd:1998,rotate:[5,1818],labX:1721,labY:1690,
  label:["% IFN-γ",{t:"+",d:-9}],p:[{text:"p<0.0001",cx:1893,base:1517,x1:1824,x2:1969,y:1533,fs:26.5},{text:"p<0.0001",cx:1891,base:1562,x1:1828,x2:1924,y:1570,fs:26.5},{text:"p=0.046",cx:1883,base:1595,x1:1824,x2:1872,y:1606,fs:26.5}]});
[[1222],[1627],[1986]].forEach(d=>{txt(svg,d[0],1830,"CDIPTi",26.5);txt(svg,d[0],1860,"µg/ml",26);});
</script></body></html>
